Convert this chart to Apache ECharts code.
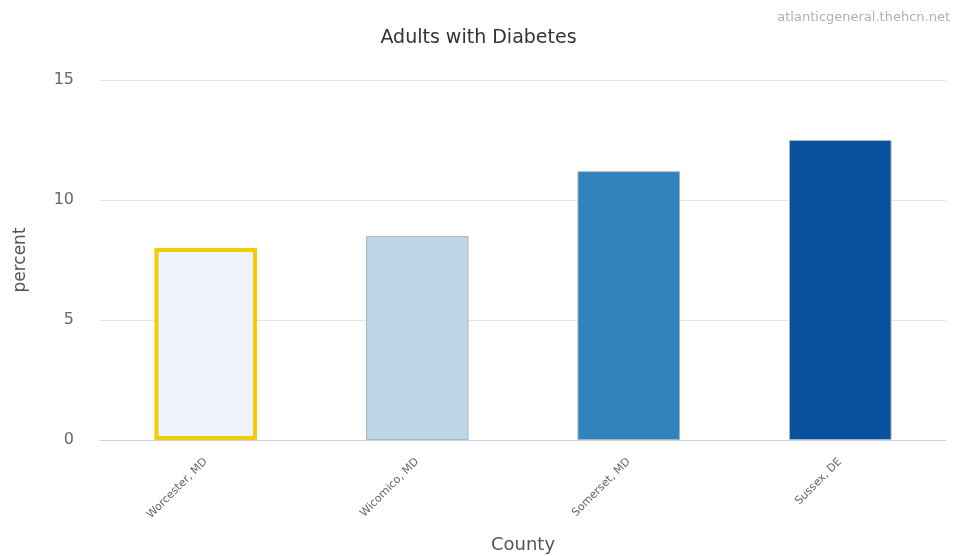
<!DOCTYPE html>
<html>
<head>
<meta charset="utf-8">
<script src="https://cdn.jsdelivr.net/npm/echarts@6/dist/echarts.min.js"></script>
<style>
html,body{margin:0;padding:0;background:#fff;}
#c{width:957px;height:556px;}
</style>
</head>
<body>
<div id="c"></div>
<script>
const categories = ["Worcester, MD", "Wicomico, MD", "Somerset, MD", "Sussex, DE"];
const values = [8.0, 8.5, 11.2, 12.5];
const yTicks = [0, 5, 10, 15];

const fills = ["#eef3fc", "#bdd7e7", "#3182bd", "#08519c"];
const borders = ["#f5cc00", "#a9b4bd", "#a9b4bd", "#a9b4bd"];
const borderWidths = [4, 1, 1, 1];

const chart = echarts.init(document.getElementById('c'), null, {renderer: 'canvas'});
chart.setOption({
  animation: false,
  backgroundColor: '#ffffff',
  title: [{
    text: 'Adults with Diabetes',
    left: 'center',
    top: 24,
    textStyle: {fontFamily: 'DejaVu Sans', fontSize: 19, fontWeight: 'normal', color: '#333333'}
  }, {
    text: 'atlanticgeneral.thehcn.net',
    right: 2,
    top: 6,
    textStyle: {fontFamily: 'DejaVu Sans', fontSize: 13, fontWeight: 'normal', color: '#b0b0b0'}
  }],
  grid: {left: 100, right: 11, top: 80, bottom: 116, outerBoundsMode: 'none', containLabel: false},
  xAxis: {
    type: 'category',
    data: categories,
    name: 'County',
    nameLocation: 'middle',
    nameGap: 96,
    nameTextStyle: {fontFamily: 'DejaVu Sans', fontSize: 18, color: '#555555'},
    axisLine: {lineStyle: {color: '#ccd6eb', width: 1}},
    axisTick: {show: false},
    axisLabel: {rotate: 45, fontFamily: 'DejaVu Sans', fontSize: 11, color: '#666666', margin: 20}
  },
  yAxis: {
    type: 'value',
    min: yTicks[0],
    max: yTicks[yTicks.length - 1],
    interval: 5,
    name: 'percent',
    nameLocation: 'middle',
    nameGap: 71,
    nameRotate: 90,
    nameTextStyle: {fontFamily: 'DejaVu Sans', fontSize: 17, color: '#555555'},
    axisLine: {show: false},
    axisTick: {show: false},
    axisLabel: {fontFamily: 'DejaVu Sans', fontSize: 16, color: '#666666', margin: 26},
    splitLine: {lineStyle: {color: '#e6e6e6', width: 1}}
  },
  series: [{
    type: 'bar',
    barWidth: '48.5%',
    data: values.map((v, i) => ({
      value: v,
      itemStyle: {color: fills[i], borderColor: borders[i], borderWidth: borderWidths[i]}
    }))
  }]
});
</script>
</body>
</html>
